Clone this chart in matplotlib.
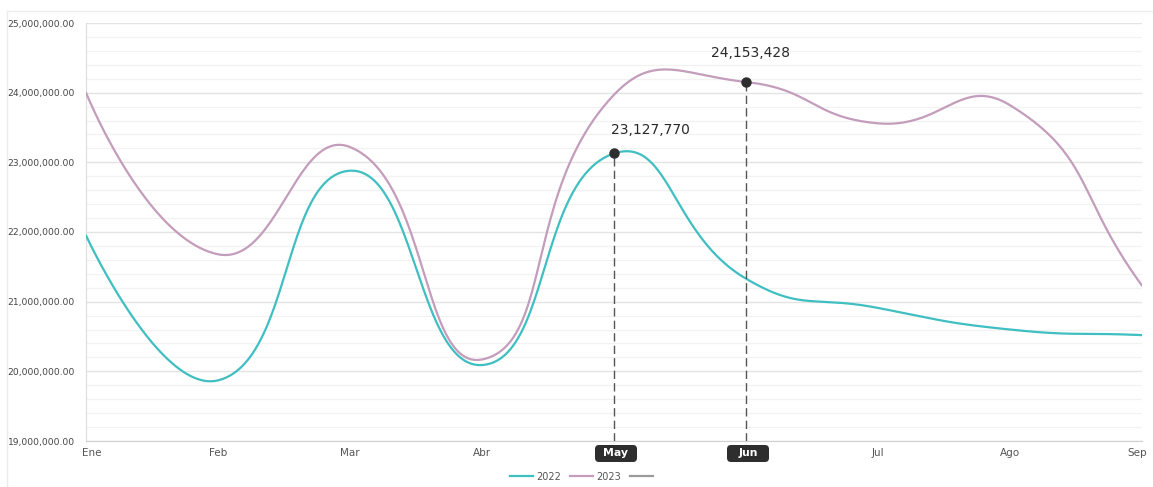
import numpy as np
import matplotlib
matplotlib.use("Agg")
import matplotlib.pyplot as plt
from matplotlib.lines import Line2D
from matplotlib.patches import Rectangle, FancyBboxPatch
from matplotlib.transforms import IdentityTransform
from matplotlib.ticker import MultipleLocator, FuncFormatter

months = ['Ene', 'Feb', 'Mar', 'Abr', 'May', 'Jun', 'Jul', 'Ago', 'Sep']
sales_2022 = [21950000, 19870000, 22880000, 20090000, 23127770,
              21330000, 20910000, 20600000, 20520000]
sales_2023 = [24000000, 21680000, 23220000, 20170000, 23970000,
              24153428, 23560000, 23820000, 21230000]
series_names = ['2022', '2023', '']
highlights = [('May', '2022'), ('Jun', '2023')]

C2022 = '#3fbfc1'
C2023 = '#c39dbb'
CGRAY = '#9a9a9a'
DARK = '#2e2e2e'

W, H = 1153, 487
fig = plt.figure(figsize=(W / 100, H / 100), dpi=100)
fig.patch.set_facecolor('white')

# outer frame of the card
fig.patches.append(Rectangle((7 / W, -0.05), 1.2, 1 - 11 / H + 0.05,
                             transform=fig.transFigure, fill=False,
                             edgecolor='#ececec', linewidth=1.0))

left, right, top, bottom = 86, 1142, 23, 441
ax = fig.add_axes([left / W, 1 - bottom / H, (right - left) / W, (bottom - top) / H])
x = np.arange(len(months))
ax.set_xlim(0, len(months) - 1)
ax.set_ylim(19_000_000, 25_000_000)

# grid
ax.yaxis.set_major_locator(MultipleLocator(1_000_000))
ax.yaxis.set_minor_locator(MultipleLocator(200_000))
ax.grid(which='major', axis='y', color='#e4e4e4', linewidth=1.0)
ax.grid(which='minor', axis='y', color='#f2f2f2', linewidth=0.9)
ax.set_axisbelow(True)
for s in ['top', 'right']:
    ax.spines[s].set_visible(False)
ax.spines['left'].set_color('#dcdcdc')
ax.spines['bottom'].set_color('#d0d0d0')
ax.tick_params(which='both', length=0)
ax.yaxis.set_major_formatter(FuncFormatter(lambda v, p: f'{v:,.2f}'))
ax.tick_params(axis='y', labelsize=6.6, labelcolor='#444444', pad=8)

ax.set_xticks(x)
ax.set_xticklabels([])
fig.canvas.draw()


def smooth_curve(xs, ys, smooth=0.5, samples=48):
    """Bezier smoothing in screen space, control points scaled by segment lengths."""
    pts = ax.transData.transform(np.column_stack([xs, ys]))
    n = len(pts)
    cp_in, cp_out = [], []
    for i in range(n):
        cur = pts[i]
        prev = pts[i - 1] if i > 0 else cur
        nxt = pts[i + 1] if i < n - 1 else cur
        vec = nxt - prev
        d0 = np.hypot(*(cur - prev))
        d1 = np.hypot(*(nxt - cur))
        r = d1 / (d0 + d1) if (d0 + d1) > 0 else 0
        cp_in.append(cur - vec * smooth * (1 - r))
        cp_out.append(cur + vec * smooth * r)
    out = [pts[0]]
    t = np.linspace(0, 1, samples)[1:, None]
    for i in range(n - 1):
        p0 = pts[i]
        p1 = cp_out[i] if i > 0 else pts[0]
        p2 = cp_in[i + 1]
        p3 = pts[i + 1]
        seg = ((1 - t) ** 3) * p0 + 3 * ((1 - t) ** 2) * t * p1 \
            + 3 * (1 - t) * t ** 2 * p2 + t ** 3 * p3
        out.extend(seg)
    out = np.array(out)
    return ax.transData.inverted().transform(out)


series = {'2022': (sales_2022, C2022), '2023': (sales_2023, C2023)}
for name in ['2022', '2023']:
    vals, col = series[name]
    c = smooth_curve(x, np.array(vals, dtype=float))
    ax.plot(c[:, 0], c[:, 1], color=col, linewidth=1.6, solid_capstyle='round',
            zorder=3)

# month labels
for i, m in enumerate(months):
    if m in [h[0] for h in highlights]:
        continue
    off = 0
    if i == 0:
        off = 6
    elif i == len(months) - 1:
        off = -5
    ax.annotate(m, (x[i], 19_000_000), xytext=(off, -12),
                textcoords='offset pixels', ha='center', va='center',
                fontsize=7.5, color='#555555', annotation_clip=False)

# highlighted points with dashed guides, value labels and axis badges
label_offsets = {'May': (-3, 23, 'left'), 'Jun': (5, 29, 'center')}
for m, name in highlights:
    i = months.index(m)
    val = series[name][0][i]
    ax.plot([x[i], x[i]], [19_000_000, val], color='#555555', linewidth=1.0,
            linestyle=(0, (6, 3)), zorder=4)
    ax.plot([x[i]], [val], marker='o', markersize=6.5, color=DARK,
            markeredgecolor=DARK, zorder=5)
    dx, dy, ha = label_offsets[m]
    ax.annotate(f'{val:,.0f}', (x[i], val), xytext=(dx, dy),
                textcoords='offset pixels', ha=ha, va='center',
                fontsize=10, color='#2a2a2a', zorder=6)
    # badge on the category axis
    px, py = ax.transData.transform((x[i], 19_000_000))
    cx, cy = px + 2, py - 12.5
    bw, bh = 42, 17
    fig.patches.append(FancyBboxPatch((cx - bw / 2, cy - bh / 2), bw, bh,
                                      boxstyle='round,pad=0,rounding_size=4',
                                      transform=IdentityTransform(),
                                      facecolor=DARK, edgecolor='none',
                                      zorder=10))
    fig.text(cx, cy, m, transform=IdentityTransform(), ha='center',
             va='center', fontsize=7.8, color='white', fontweight='bold',
             zorder=11)

# legend
handles = [Line2D([], [], color=C2022, linewidth=1.6),
           Line2D([], [], color=C2023, linewidth=1.6),
           Line2D([], [], color=CGRAY, linewidth=1.6)]
fig.legend(handles, series_names, loc='center', ncol=3,
           bbox_to_anchor=(583 / W, 1 - 476.5 / H), frameon=False,
           fontsize=7, labelcolor='#555555', handlelength=2.4,
           handletextpad=0.3, columnspacing=0.9)

fig.savefig('out.png', dpi=100, facecolor='white')
